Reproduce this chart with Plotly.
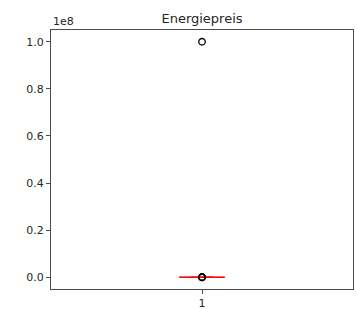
import plotly.graph_objects as go

# Energy price values (one extreme outlier at 1e8)
energiepreis = [0.24, 0.26, 0.27, 0.28, 0.29, 0.30, 0.30, 0.31, 0.32, 0.33, 0.34, 0.35,
                0.36, 0.38, 0.55, 0.70, 1.20, 0.02, 100000000]
x_tick_vals = [1]
x_tick_text = ["1"]
y_tick_vals = [0, 2e7, 4e7, 6e7, 8e7, 1e8]
y_tick_text = ["0.0", "0.2", "0.4", "0.6", "0.8", "1.0"]

fig = go.Figure()
fig.add_trace(go.Box(
    y=energiepreis,
    x0=1,
    width=0.15,
    boxpoints="outliers",
    jitter=0,
    pointpos=0,
    line=dict(color="red", width=1),
    fillcolor="rgba(0,0,0,0)",
    marker=dict(symbol="circle-open", color="black", size=6.5, line=dict(width=1.3, color="black")),
    showlegend=False,
    hoverinfo="y",
))

axis_common = dict(
    showline=True, mirror=True, linecolor="#4a4a4a", linewidth=1,
    showgrid=False, zeroline=False, automargin=False,
    ticks="outside", ticklen=4, tickcolor="#4a4a4a", tickwidth=1,
    tickfont=dict(family="DejaVu Sans", size=11, color="#262626"),
)

fig.update_layout(
    width=357, height=309,
    margin=dict(l=51, r=4, t=30, b=20),
    paper_bgcolor="white", plot_bgcolor="white",
    title=dict(text="Energiepreis", x=0.5, xanchor="center", xref="paper",
               y=1, yref="paper", yanchor="bottom", pad=dict(b=7),
               font=dict(family="DejaVu Sans", size=13, color="#262626")),
    xaxis=dict(range=[0.5, 1.5], tickvals=x_tick_vals, ticktext=x_tick_text, **axis_common),
    yaxis=dict(range=[-0.05e8, 1.05e8], tickvals=y_tick_vals, ticktext=y_tick_text, **axis_common),
    annotations=[dict(text="1e8", x=0, xref="paper", xanchor="left", y=1, yref="paper",
                      yanchor="bottom", yshift=0, showarrow=False,
                      font=dict(family="DejaVu Sans", size=11, color="#262626"))],
)

fig.write_html("out.html", config={"displayModeBar": False, "staticPlot": True},
               post_script="document.body.style.margin='0';document.body.style.overflow='hidden';")
